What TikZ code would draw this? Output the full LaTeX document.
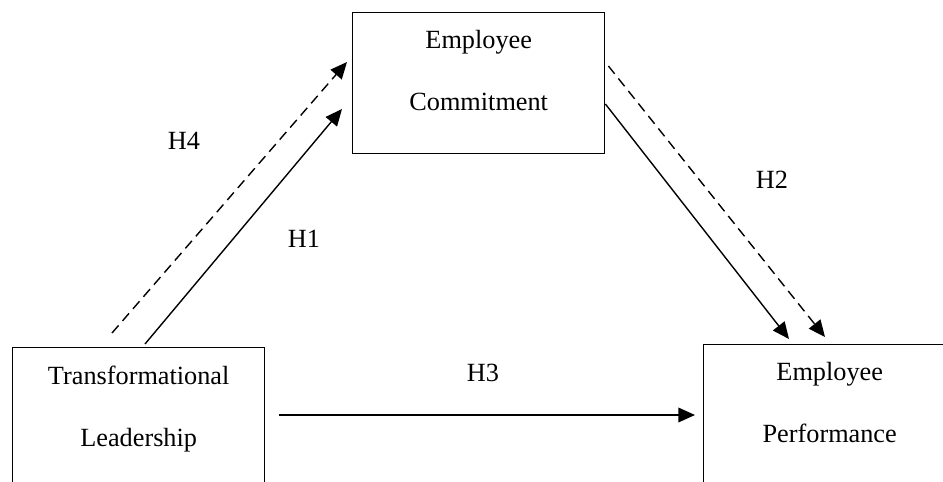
\documentclass[tikz,border=0pt]{standalone}
\usepackage{fontspec}
\setmainfont{Liberation Serif}
\usetikzlibrary{arrows.meta,calc}

\tikzset{every picture/.style={line width=1.05pt}}

\begin{document}
\begin{tikzpicture}[x=0.75pt,y=0.75pt,yscale=-1,xscale=1,
    box/.style={draw, rectangle, inner sep=0pt, minimum width=189pt},
    boxtext/.style={anchor=north, inner sep=0pt, align=center, font=\fontsize{19.7}{46.5}\selectfont},
    hlabel/.style={inner sep=0pt, font=\fontsize{19.7}{23}\selectfont},
    arr/.style={-{Triangle[length=12.5pt,width=11pt]}},
    dasharr/.style={arr, dash pattern=on 7.5pt off 4.5pt}]
        %set diagram at 943 x 482
        \useasboundingbox (0,0) rectangle (943,482);
        \clip (0,0) rectangle (943,482);

        %Shape: Rectangle [id:ec]
        \node (ec) [box, anchor=north west, minimum height=105.75pt] at (352,12) {};
        %Shape: Rectangle [id:tl]
        \node (tl) [box, anchor=north west, minimum height=135pt] at (12,347) {};
        %Shape: Rectangle [id:pf]
        \node (pf) [box, anchor=north west, minimum height=135pt] at (703,344) {};

        % Text Node
        \node (ectext) [boxtext] at ($(ec.north)+(0,18)$) {Employee\\Commitment};
        % Text Node
        \node (tltext) [boxtext] at ($(tl.north)+(0,18)$) {Transformational\\Leadership};
        % Text Node
        \node (pftext) [boxtext] at ($(pf.north)+(0,18)$) {Employee\\Performance};

        %Straight Lines [id:h1]
        \draw [arr] ($(tl.north west)+(133,-3)$) -- ($(ec.north west)+(-10,97)$);
        %Straight Lines [id:h4]
        \draw [dasharr] ($(tl.north west)+(100,-14)$) -- ($(ec.north west)+(-5,50)$);
        %Straight Lines [id:h2]
        \draw [arr] ($(ec.north east)+(0,92)$) -- ($(pf.north west)+(86,-5)$);
        %Straight Lines [id:h2d]
        \draw [dasharr] ($(ec.north east)+(3,54)$) -- ($(pf.north west)+(122,-7)$);
        %Straight Lines [id:h3]
        \draw [arr] ($(tl.north east)+(14,68)$) -- ($(pf.north west)+(-8,71)$);

        % Text Node
        \node (h4) [hlabel] at (184,141) {H4};
        % Text Node
        \node (h1) [hlabel] at (304,239) {H1};
        % Text Node
        \node (h2) [hlabel] at (772,180) {H2};
        % Text Node
        \node (h3) [hlabel] at (483,373) {H3};

\end{tikzpicture}
\end{document}
